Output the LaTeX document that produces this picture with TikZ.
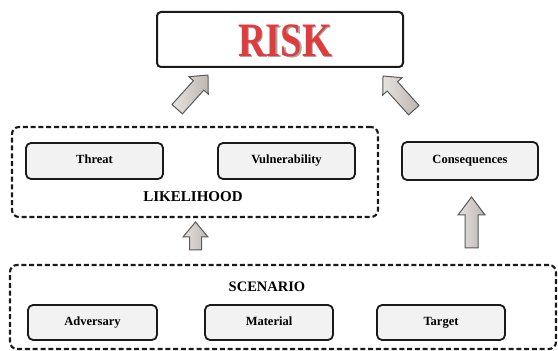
\documentclass[tikz,border=0pt]{standalone}
\usepackage{fontspec}
\setmainfont{Liberation Serif}
\usetikzlibrary{shadows}
\definecolor{boxfill}{HTML}{F2F2F2}
\definecolor{boxline}{HTML}{1A1A1A}
\definecolor{arrline}{HTML}{5A5A5A}
\definecolor{arrdark}{HTML}{BDB7B1}
\definecolor{arrlight}{HTML}{E6E2DE}
\definecolor{riskred}{HTML}{E23B3D}
\newcommand{\myblockarrow}[7]{%
  \draw[arrowstyle, shift={(#1,#2)}, rotate=#3]
    (0,-#5) -- ({#4-#7},-#5) -- ({#4-#7},-#6) -- (#4,0) -- ({#4-#7},#6) -- ({#4-#7},#5) -- (0,#5) -- cycle;}
\tikzset{
  smallbox/.style={draw=boxline, line width=1.8pt, rounded corners=5pt, fill=boxfill,
    minimum height=36pt, inner sep=0pt, text height=8.6pt, text depth=2.6pt,
    font=\bfseries\fontsize{12.5}{14}\selectfont},
  groupbox/.style={draw=boxline, line width=2.1pt, dash pattern=on 5pt off 2.8pt,
    rounded corners=7pt, fill=white, inner sep=0pt},
  grouplabel/.style={font=\bfseries\fontsize{15}{17}\selectfont, inner sep=0pt},
  arrowstyle/.style={draw=arrline, line width=1pt, line join=miter, left color=arrlight, right color=arrdark},
}
\begin{document}
\begin{tikzpicture}[x=1pt, y=1pt]
\useasboundingbox (0,0) rectangle (558,351);
\fill[white] (0,0) rectangle (558,351);

% RISK box
\node[draw=boxline, line width=2pt, rounded corners=4pt, fill=white,
      minimum width=246pt, minimum height=55pt, inner sep=0pt] (risk) at (280,311.5) {};
\node[text=black!35, font=\bfseries\fontsize{48}{50}\selectfont, inner sep=0pt] at (286.5,309) {\scalebox{0.8}[1]{RISK}};
\node[text=riskred, font=\bfseries\fontsize{48}{50}\selectfont, inner sep=0pt] (risktxt) at (285,310.5) {\scalebox{0.8}[1]{RISK}};

% Likelihood group
\node[groupbox, minimum width=366pt, minimum height=90pt] (likegroup) at (195,179) {};
\node[smallbox, minimum width=137pt] (threat) at (94.5,190) {Threat};
\node[smallbox, minimum width=137pt] (vuln) at (286.5,190) {Vulnerability};
\node[grouplabel] (likelihood) at (193,154) {LIKELIHOOD};

% Consequences
\node[smallbox, minimum width=136pt, minimum height=38pt] (cons) at (470,190) {Consequences};

% Scenario group
\node[groupbox, minimum width=546pt, minimum height=84pt] (scengroup) at (283,44) {};
\node[grouplabel, font=\bfseries\fontsize{14.5}{16}\selectfont] (scenario) at (267,64) {SCENARIO};
\node[smallbox, minimum width=129pt, minimum height=35pt] (adv) at (92.5,28.5) {Adversary};
\node[smallbox, minimum width=128pt, minimum height=35pt] (mat) at (269,28.5) {Material};
\node[smallbox, minimum width=128pt, minimum height=35pt] (targ) at (441,28.5) {Target};

% Block arrows
\myblockarrow{177.2}{241.8}{48}{46}{7}{13}{14}
\myblockarrow{413.8}{240.8}{132}{46}{7}{13}{14}
\myblockarrow{195.5}{101}{90}{28}{6}{12.5}{15}
\myblockarrow{471.5}{103}{90}{51}{6.5}{13.5}{18}
\end{tikzpicture}
\end{document}
